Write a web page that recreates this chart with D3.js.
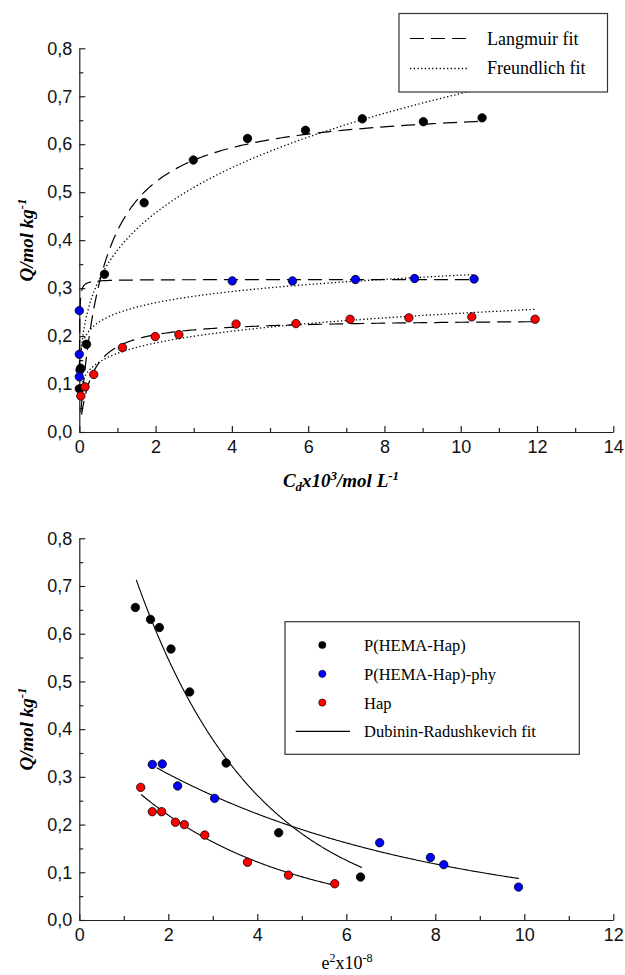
<!DOCTYPE html>
<html><head><meta charset="utf-8">
<script src="https://cdn.jsdelivr.net/npm/d3@7"></script>
<style>body{margin:0;background:#fff}</style>
</head><body><svg id="c" width="625" height="975"></svg>
<script>
// ---------- Data (top: Q vs Cd) ----------
const hemaC = [0.0, 0.035, 0.19, 0.66, 1.70, 2.99, 4.41, 5.93, 7.42, 9.02, 10.56];
const hemaQ = [0.090, 0.133, 0.183, 0.329, 0.478, 0.567, 0.612, 0.629, 0.653, 0.647, 0.655];
const phyC = [0.0, 0.0, 0.02, 0.0, 4.01, 5.59, 7.24, 8.79, 10.35];
const phyQ = [0.253, 0.162, 0.129, 0.115, 0.315, 0.315, 0.318, 0.320, 0.319];
const hapC = [0.04, 0.15, 0.38, 1.13, 1.99, 2.61, 4.11, 5.68, 7.10, 8.64, 10.29, 11.95];
const hapQ = [0.075, 0.094, 0.120, 0.176, 0.199, 0.203, 0.225, 0.226, 0.235, 0.238, 0.240, 0.235];

// fit parameters (order: P(HEMA-Hap), P(HEMA-Hap)-phy, Hap)
const langmuirQm = [0.687, 0.318, 0.2363];
const langmuirK = [1.571, 200, 3.035];
const langmuirFrom = [0.04, 0.003, 0.06];
const langmuirTo = [10.56, 10.35, 11.95];
const freundlichKf = [0.379, 0.248, 0.164];
const freundlichInvN = [0.27, 0.12, 0.179];
const freundlichFrom = [0.02, 0.05, 0.05];
const freundlichTo = [10.56, 10.35, 11.95];

// ---------- Data (bottom: Q vs e^2) ----------
const drHemaE = [1.26, 1.60, 1.80, 2.06, 2.48, 3.30, 4.48, 6.32];
const drHemaQ = [0.655, 0.630, 0.613, 0.568, 0.478, 0.329, 0.183, 0.090];
const drPhyE = [1.64, 1.865, 2.21, 3.04, 6.75, 7.89, 8.19, 9.87];
const drPhyQ = [0.326, 0.327, 0.281, 0.255, 0.162, 0.131, 0.116, 0.069];
const drHapE = [1.38, 1.64, 1.85, 2.16, 2.36, 2.82, 3.78, 4.70, 5.74];
const drHapQ = [0.278, 0.227, 0.227, 0.205, 0.200, 0.178, 0.121, 0.094, 0.076];
const drQm = [1.143, 0.421, 0.3966];
const drB = [0.3687, 0.1596, 0.2954];
const drFrom = [1.28, 1.74, 1.39];
const drTo = [6.35, 9.88, 5.71];

const yTicks = [0, 0.1, 0.2, 0.3, 0.4, 0.5, 0.6, 0.7, 0.8];
const xTicksTop = [0, 2, 4, 6, 8, 10, 12, 14];
const xTicksBottom = [0, 2, 4, 6, 8, 10, 12];
const topLegend = ["Langmuir fit", "Freundlich fit"];
const bottomLegend = ["P(HEMA-Hap)", "P(HEMA-Hap)-phy", "Hap", "Dubinin-Radushkevich fit"];
const colors = ["#000000", "#0000ff", "#ff0000"];

// ---------- Drawing ----------
const svg = d3.select("#c");
const sans = "'Liberation Sans', Arial, sans-serif";
const serif = "'Liberation Serif', 'Times New Roman', serif";
const fmt = d => d3.format(".1f")(d).replace(".", ",");

function axes(g, x, y, xt, xMinor, yMinor) {
  g.append("g").attr("transform", `translate(0,${y.range()[0]})`)
    .call(d3.axisBottom(x).tickValues(xt).tickSizeInner(-6).tickSizeOuter(0).tickPadding(8).tickFormat(d3.format("d")));
  g.append("g").attr("transform", `translate(0,${y.range()[0]})`)
    .call(d3.axisBottom(x).tickValues(xMinor).tickSizeInner(-4).tickSizeOuter(0).tickFormat(""))
    .select(".domain").remove();
  g.append("g").attr("transform", `translate(${x.range()[0]},0)`)
    .call(d3.axisLeft(y).tickValues(yTicks).tickSizeInner(-6).tickSizeOuter(0).tickPadding(7).tickFormat(fmt));
  g.append("g").attr("transform", `translate(${x.range()[0]},0)`)
    .call(d3.axisLeft(y).tickValues(yMinor).tickSizeInner(-4).tickSizeOuter(0).tickFormat(""))
    .select(".domain").remove();
  g.selectAll(".domain, .tick line").attr("stroke", "#222").attr("stroke-width", 1.2);
  g.selectAll(".tick text").attr("font-family", sans).attr("font-size", 18).attr("fill", "#111");
}

function sample(from, to, f) {
  const n = 300, pts = [];
  const lf = Math.log(from), lt = Math.log(to);
  for (let i = 0; i <= n; i++) { const c = Math.exp(lf + (lt - lf) * i / n); pts.push([c, f(c)]); }
  return pts;
}

// ===== TOP CHART =====
const xT = d3.scaleLinear().domain([0, 14]).range([79.3, 613.3]);
const yT = d3.scaleLinear().domain([0, 0.8]).range([432, 48.3]);
const gT = svg.append("g");
axes(gT, xT, yT, xTicksTop, d3.range(1, 14, 2), d3.range(0.05, 0.8, 0.1));

const lineT = d3.line().x(d => xT(d[0])).y(d => yT(d[1]));
for (let i = 0; i < 3; i++) {
  gT.append("path").attr("d", lineT(sample(langmuirFrom[i], langmuirTo[i],
      c => langmuirQm[i] * langmuirK[i] * c / (1 + langmuirK[i] * c))))
    .attr("fill", "none").attr("stroke", "#000").attr("stroke-width", 1.2).attr("stroke-dasharray", "14,7");
  gT.append("path").attr("d", lineT(sample(freundlichFrom[i], freundlichTo[i],
      c => freundlichKf[i] * Math.pow(c, freundlichInvN[i]))))
    .attr("fill", "none").attr("stroke", "#000").attr("stroke-width", 1.3).attr("stroke-dasharray", "1.3,2.4");
}
function pts(g, x, y, xs, ys, col, r) {
  g.append("g").selectAll("circle").data(xs.map((d, i) => [d, ys[i]])).join("circle")
    .attr("cx", d => x(d[0])).attr("cy", d => y(d[1])).attr("r", r)
    .attr("fill", col).attr("stroke", "#000").attr("stroke-width", 0.8);
}
pts(gT, xT, yT, phyC, phyQ, colors[1], 4.2);
pts(gT, xT, yT, hemaC, hemaQ, colors[0], 4.2);
pts(gT, xT, yT, hapC, hapQ, colors[2], 4.2);

// top legend
const lg = svg.append("g");
lg.append("rect").attr("x", 399).attr("y", 13.5).attr("width", 208.5).attr("height", 78.5)
  .attr("fill", "#fff").attr("stroke", "#333").attr("stroke-width", 1.2);
lg.append("line").attr("x1", 410).attr("x2", 467).attr("y1", 38.5).attr("y2", 38.5)
  .attr("stroke", "#000").attr("stroke-width", 1.2).attr("stroke-dasharray", "14,7");
lg.append("line").attr("x1", 410).attr("x2", 467).attr("y1", 68.5).attr("y2", 68.5)
  .attr("stroke", "#000").attr("stroke-width", 1.3).attr("stroke-dasharray", "1.3,2.4");
topLegend.forEach((t, i) => lg.append("text").attr("x", 487).attr("y", 44.5 + i * 29)
  .attr("font-family", serif).attr("font-size", 18).text(t));

// top axis titles
const yl1 = svg.append("text").attr("transform", "translate(33,240) rotate(-90)").attr("text-anchor", "middle")
  .attr("font-family", serif).attr("font-size", 19).attr("font-weight", "bold").attr("font-style", "italic");
yl1.append("tspan").text("Q/mol kg");
yl1.append("tspan").attr("dy", -7).attr("font-size", 13).text("-1");
const xl1 = svg.append("text").attr("x", 341).attr("y", 487).attr("text-anchor", "middle")
  .attr("font-family", serif).attr("font-size", 19).attr("font-weight", "bold").attr("font-style", "italic");
xl1.append("tspan").text("C");
xl1.append("tspan").attr("dy", 4).attr("font-size", 13).text("d");
xl1.append("tspan").attr("dy", -4).text("x10");
xl1.append("tspan").attr("dy", -7).attr("font-size", 13).text("3");
xl1.append("tspan").attr("dy", 7).text("/mol L");
xl1.append("tspan").attr("dy", -7).attr("font-size", 13).text("-1");

// ===== BOTTOM CHART =====
const xB = d3.scaleLinear().domain([0, 12]).range([79.3, 613.3]);
const yB = d3.scaleLinear().domain([0, 0.8]).range([920, 538.3]);
const gB = svg.append("g");
axes(gB, xB, yB, xTicksBottom, d3.range(1, 12, 2), d3.range(0.05, 0.8, 0.1));
const lineB = d3.line().x(d => xB(d[0])).y(d => yB(d[1]));
for (let i = 0; i < 3; i++) {
  gB.append("path").attr("d", lineB(sample(drFrom[i], drTo[i], e => drQm[i] * Math.exp(-drB[i] * e))))
    .attr("fill", "none").attr("stroke", "#000").attr("stroke-width", 1.1);
}
pts(gB, xB, yB, drHemaE, drHemaQ, colors[0], 4.2);
pts(gB, xB, yB, drPhyE, drPhyQ, colors[1], 4.2);
pts(gB, xB, yB, drHapE, drHapQ, colors[2], 4.2);

// bottom legend
const lb = svg.append("g");
lb.append("rect").attr("x", 285).attr("y", 621.7).attr("width", 294.3).attr("height", 132.6)
  .attr("fill", "#fff").attr("stroke", "#333").attr("stroke-width", 1.2);
bottomLegend.forEach((t, i) => {
  const yy = 645 + i * 28.8;
  if (i < 3) lb.append("circle").attr("cx", 322.3).attr("cy", yy).attr("r", 3.6)
    .attr("fill", colors[i]).attr("stroke", "#000").attr("stroke-width", 0.6);
  else lb.append("line").attr("x1", 295.7).attr("x2", 350).attr("y1", yy).attr("y2", yy)
    .attr("stroke", "#000").attr("stroke-width", 1.1);
  lb.append("text").attr("x", 364).attr("y", yy + 6).attr("font-family", serif).attr("font-size", 16.5).text(t);
});

// bottom axis titles
const yl2 = svg.append("text").attr("transform", "translate(33,729) rotate(-90)").attr("text-anchor", "middle")
  .attr("font-family", serif).attr("font-size", 19).attr("font-weight", "bold").attr("font-style", "italic");
yl2.append("tspan").text("Q/mol kg");
yl2.append("tspan").attr("dy", -7).attr("font-size", 13).text("-1");
const xl2 = svg.append("text").attr("x", 347).attr("y", 969).attr("text-anchor", "middle")
  .attr("font-family", serif).attr("font-size", 18);
xl2.append("tspan").text("e");
xl2.append("tspan").attr("dy", -7).attr("font-size", 12).text("2");
xl2.append("tspan").attr("dy", 7).text("x10");
xl2.append("tspan").attr("dy", -7).attr("font-size", 12).text("-8");
</script></body></html>
